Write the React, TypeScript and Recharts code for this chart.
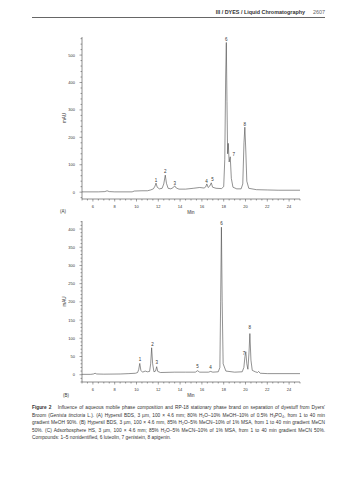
import React from 'react'
import { LineChart, Line, XAxis, YAxis, ReferenceDot } from 'recharts'

// chromatogram A: retention time (min) and absorbance (mAU)
const timeA = [5, 6.5, 7.1, 7.3, 7.5, 8, 9.6, 9.8, 10.5, 11.0, 11.3, 11.55, 11.7, 11.79, 11.9, 12.1, 12.35, 12.5, 12.64, 12.75, 12.9, 13.15, 13.38, 13.5, 13.65, 13.9, 14.5, 15.2, 15.8, 16.2, 16.35, 16.45, 16.58, 16.72, 16.86, 16.98, 17.3, 17.8, 18.0, 18.1, 18.18, 18.24, 18.3, 18.36, 18.42, 18.5, 18.6, 18.7, 18.85, 19.2, 19.6, 19.75, 19.86, 19.94, 20.03, 20.12, 20.3, 21, 22, 23, 25]
const mauA = [1, 1, 2, 5, 2, 1, 1, 4, 5, 5, 8, 12, 22, 33, 18, 12, 14, 30, 62, 32, 14, 12, 17, 23, 15, 11, 11, 14, 17, 15, 19, 30, 17, 22, 34, 18, 14, 13, 20, 120, 420, 546, 330, 140, 178, 110, 129, 50, 18, 12, 12, 30, 180, 237, 150, 40, 14, 9, 8, 7, 7]

// chromatogram B
const timeB = [5, 5.8, 6.05, 6.2, 6.35, 7, 8.5, 9.3, 9.9, 10.1, 10.2, 10.3, 10.4, 10.55, 10.8, 11.0, 11.2, 11.3, 11.39, 11.48, 11.6, 11.75, 11.85, 11.95, 12.2, 13.5, 14.5, 15.4, 15.6, 15.8, 16.6, 16.8, 17.0, 17.5, 17.65, 17.72, 17.79, 17.86, 17.95, 18.2, 19, 19.7, 19.85, 19.95, 20.03, 20.12, 20.22, 20.32, 20.4, 20.5, 20.62, 20.9, 21.1, 21.2, 21.35, 22, 25]
const mauB = [1, 1, 2, 4, 2, 1.5, 2, 3, 4, 6, 14, 31, 12, 7, 10, 8, 9, 30, 74, 30, 8, 10, 22, 9, 6, 7, 7, 7, 11, 7, 7, 9, 7, 8, 20, 200, 405, 200, 30, 10, 7, 8, 20, 50, 63, 30, 15, 60, 113, 40, 12, 8, 6, 9, 4, 3, 3]

// peak labels
const peakNames = ['1', '2', '3', '4', '5', '6', '7', '8']
const labelTimeA = [11.79, 12.64, 13.5, 16.42, 16.98, 18.24, 18.92, 19.94]
const labelMauA = [44, 75, 33, 38, 45, 557, 138, 248]
const labelTimeB = [10.33, 11.48, 11.85, 16.78, 15.6, 17.79, 19.87, 20.4]
const labelMauB = [43, 84, 33, 19, 22, 416, 59, 129]

// axis ticks
const xMajor = [6, 8, 10, 12, 14, 16, 18, 20, 22, 24]
const yMajorA = [0, 100, 200, 300, 400, 500]
const yMajorB = [0, 50, 100, 150, 200, 250, 300, 350, 400]

const minorTicks = (from: number, to: number, step: number) => {
  const out: number[] = []
  for (let v = from; v <= to + 1e-9; v += step) out.push(Math.round(v * 100) / 100)
  return out
}

const AXIS = '#444'
const TXT = '#333'
const FONT = '"Liberation Sans", Arial, sans-serif'

const makeXTick = (props: any) => {
  const { x, y, payload } = props
  const major = xMajor.includes(payload.value)
  return (
    <g>
      <line x1={x} y1={y} x2={x} y2={y + (major ? 2.5 : 1.5)} stroke={AXIS} strokeWidth={0.5} />
      {major && (
        <text x={x} y={y + 9} textAnchor="middle" fontSize={4} fill={TXT} fontFamily={FONT}>
          {payload.value}
        </text>
      )}
    </g>
  )
}

const makeYTick = (majors: number[]) => (props: any) => {
  const { x, y, payload } = props
  const major = majors.includes(payload.value)
  return (
    <g>
      <line x1={x} y1={y} x2={x - (major ? 2.5 : 1.5)} y2={y} stroke={AXIS} strokeWidth={0.5} />
      {major && (
        <text x={x - 7} y={y + 1.5} textAnchor="end" fontSize={4} fill={TXT} fontFamily={FONT}>
          {payload.value}
        </text>
      )}
    </g>
  )
}

const peakLabel = (name: string) => (props: any) => {
  const vb = props.viewBox || {}
  const cx = vb.x + (vb.width || 0) / 2
  const cy = vb.y + (vb.height || 0) / 2
  return (
    <text x={cx} y={cy + 1.6} textAnchor="middle" fontSize={4.5} fill={TXT} fontFamily={FONT}>
      {name}
    </text>
  )
}

const Chromatogram = ({
  times,
  values,
  labelTimes,
  labelValues,
  yDomain,
  yMajor,
  yStep,
  height,
  top
}: {
  times: number[]
  values: number[]
  labelTimes: number[]
  labelValues: number[]
  yDomain: [number, number]
  yMajor: number[]
  yStep: number
  height: number
  top: number
}) => {
  const data = times.map((t, i) => ({ t, mau: values[i] }))
  return (
    <LineChart
      width={320}
      height={height}
      data={data}
      margin={{ top, right: 20, bottom: 0, left: 52 }}
      style={{ fontFamily: FONT }}
    >
      <XAxis
        dataKey="t"
        type="number"
        domain={[5, 25]}
        ticks={minorTicks(5, 25, 0.5)}
        interval={0}
        tickLine={false}
        tickSize={0}
        tickMargin={0}
        tick={makeXTick}
        height={16}
        stroke={AXIS}
        strokeWidth={0.6}
        label={{ value: 'Min', position: 'insideBottom', offset: 1, fontSize: 4.5, fill: TXT }}
      />
      <YAxis
        type="number"
        domain={yDomain}
        ticks={minorTicks(-20, yDomain[1], yStep)}
        interval={0}
        tickLine={false}
        tickSize={0}
        tickMargin={0}
        tick={makeYTick(yMajor)}
        width={30}
        stroke={AXIS}
        strokeWidth={0.6}
        label={{ value: 'mAU', angle: -90, position: 'insideLeft', offset: 12, fontSize: 4.5, fill: TXT, textAnchor: 'middle' }}
      />
      <Line
        type="linear"
        dataKey="mau"
        stroke="#4a4a4a"
        strokeWidth={0.6}
        dot={false}
        isAnimationActive={false}
      />
      {peakNames.map((name, i) => (
        <ReferenceDot
          key={name}
          x={labelTimes[i]}
          y={labelValues[i]}
          r={0}
          fill="none"
          stroke="none"
          label={peakLabel(name)}
        />
      ))}
    </LineChart>
  )
}

const captionLines = [
  <>
    <b>Figure 2</b>&nbsp;&nbsp; Influence of aqueous mobile phase composition and RP-18 stationary phase brand on separation of dyestuff from Dyers'
  </>,
  <>
    Broom (<i>Genista tinctoria</i> L.). (A) Hypersil BDS, 3 µm, 100 × 4.6 mm; 80% H₂O–10% MeOH–10% of 0.5% H₃PO₄, from 1 to 40 min
  </>,
  <>gradient MeOH 90%. (B) Hypersil BDS, 3 µm, 100 × 4.6 mm, 85% H₂O–5% MeCN–10% of 1% MSA, from 1 to 40 min gradient MeCN</>,
  <>50%. (C) Adsorbosphere HS, 3 µm, 100 × 4.6 mm; 85% H₂O–5% MeCN–10% of 1% MSA, from 1 to 40 min gradient MeCN 50%.</>,
  <>Compounds: 1–5 nonidentified, 6 luteolin, 7 genistein, 8 apigenin.</>
]

export default function App() {
  return (
    <div
      style={{
        position: 'absolute',
        left: 0,
        top: 0,
        width: 356,
        height: 480,
        background: '#fff',
        fontFamily: FONT,
        color: TXT,
        overflow: 'hidden'
      }}
    >
      <div style={{ position: 'absolute', left: 32, top: 9, width: 293, fontSize: 5.4, lineHeight: '6px', textAlign: 'right' }}>
        <b>III / DYES / Liquid Chromatography</b>
        <span style={{ marginLeft: 8, color: '#666' }}>2607</span>
      </div>
      <div style={{ position: 'absolute', left: 32, top: 17, width: 293, height: 1, background: '#666' }} />

      <div style={{ position: 'absolute', left: 0, top: 0 }}>
        <Chromatogram
          times={timeA}
          values={mauA}
          labelTimes={labelTimeA}
          labelValues={labelMauA}
          yDomain={[-25, 566]}
          yMajor={yMajorA}
          yStep={20}
          height={215}
          top={37}
        />
      </div>
      <div style={{ position: 'absolute', left: 60, top: 209, fontSize: 4.5 }}>(A)</div>

      <div style={{ position: 'absolute', left: 0, top: 200 }}>
        <Chromatogram
          times={timeB}
          values={mauB}
          labelTimes={labelTimeB}
          labelValues={labelMauB}
          yDomain={[-20, 422]}
          yMajor={yMajorB}
          yStep={10}
          height={198}
          top={21}
        />
      </div>
      <div style={{ position: 'absolute', left: 63, top: 393, fontSize: 4.5 }}>(B)</div>

      <div style={{ position: 'absolute', left: 32, top: 404, width: 293, fontSize: 4.8, lineHeight: '7.6px' }}>
        {captionLines.map((line, i) => (
          <div
            key={i}
            style={{
              whiteSpace: 'normal',
              textAlign: i < captionLines.length - 1 ? 'justify' : 'left',
              textAlignLast: i < captionLines.length - 1 ? 'justify' : 'left'
            } as React.CSSProperties}
          >
            {line}
          </div>
        ))}
      </div>
    </div>
  )
}
